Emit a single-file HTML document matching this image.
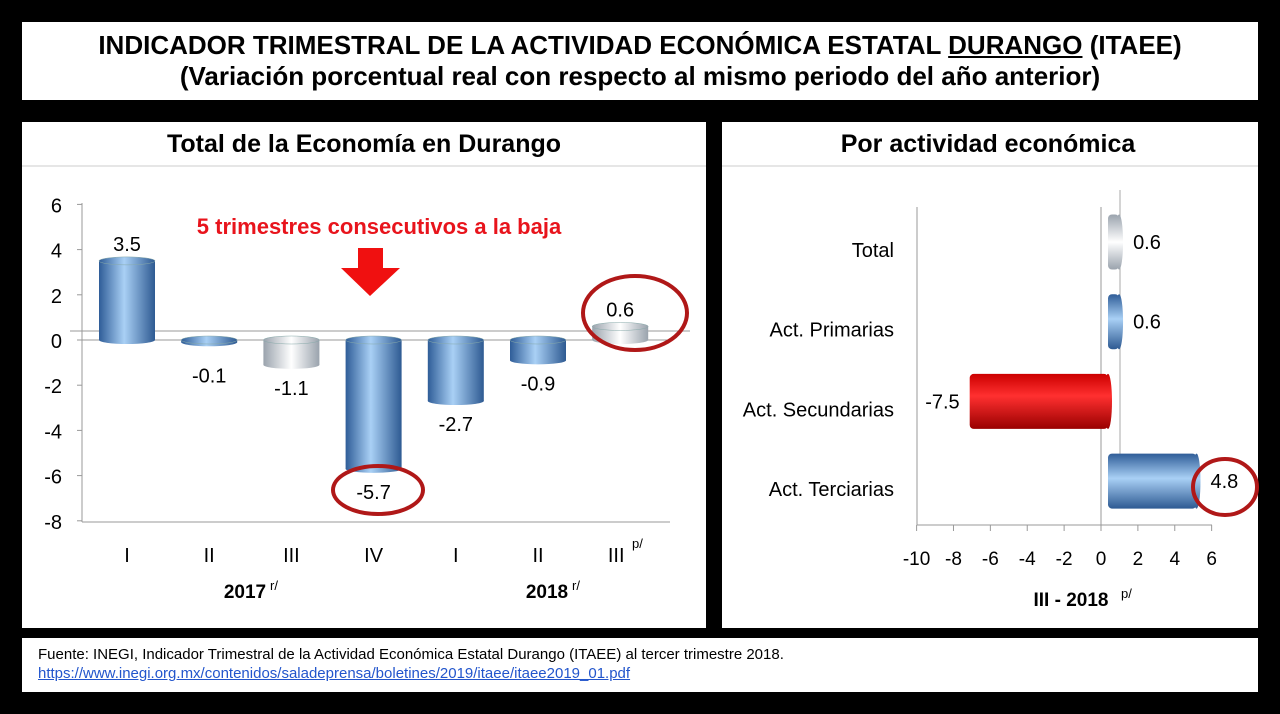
<!DOCTYPE html>
<html><head><meta charset="utf-8">
<style>
body{margin:0;width:1280px;height:714px;background:#000;position:relative;overflow:hidden;font-family:"Liberation Sans",sans-serif}
.box{position:absolute;background:#fff}
</style></head><body>
<div class="box" style="left:22px;top:22px;width:1236px;height:78px;text-align:center;font-weight:bold;font-size:26px;line-height:31px;padding-top:8px;box-sizing:border-box">
<div>INDICADOR TRIMESTRAL DE LA ACTIVIDAD ECONÓMICA ESTATAL <u>DURANGO</u> (ITAEE)</div>
<div>(Variación porcentual real con respecto al mismo periodo del año anterior)</div>
</div>
<div class="box" style="left:22px;top:122px;width:684px;height:506px"></div>
<div class="box" style="left:722px;top:122px;width:536px;height:506px"></div>
<div class="box" style="left:22px;top:638px;width:1236px;height:54px;font-size:15px;line-height:19px;padding:7px 0 0 16px;box-sizing:border-box">
<div>Fuente: INEGI, Indicador Trimestral de la Actividad Económica Estatal Durango (ITAEE) al tercer trimestre 2018.</div>
<div style="color:#2255cc;text-decoration:underline">https://www.inegi.org.mx/contenidos/saladeprensa/boletines/2019/itaee/itaee2019_01.pdf</div>
</div>
<svg id="chart" width="1280" height="714" style="position:absolute;left:0;top:0" xmlns="http://www.w3.org/2000/svg">
<defs>
<linearGradient id="gb" x1="0" x2="1"><stop offset="0" stop-color="#2f5d98"/><stop offset="0.45" stop-color="#a9d0f5"/><stop offset="1" stop-color="#2e5a92"/></linearGradient>
<linearGradient id="gw" x1="0" x2="1"><stop offset="0" stop-color="#9aa3ad"/><stop offset="0.5" stop-color="#ffffff"/><stop offset="1" stop-color="#9aa3ad"/></linearGradient>
<linearGradient id="gbh" x1="0" y1="0" x2="0" y2="1"><stop offset="0" stop-color="#2f5d98"/><stop offset="0.45" stop-color="#a9d0f5"/><stop offset="1" stop-color="#2e5a92"/></linearGradient>
<linearGradient id="gwh" x1="0" y1="0" x2="0" y2="1"><stop offset="0" stop-color="#9aa3ad"/><stop offset="0.5" stop-color="#ffffff"/><stop offset="1" stop-color="#9aa3ad"/></linearGradient>
<linearGradient id="grh" x1="0" y1="0" x2="0" y2="1"><stop offset="0" stop-color="#c00"/><stop offset="0.4" stop-color="#ff3030"/><stop offset="1" stop-color="#900"/></linearGradient>
</defs>
<text x="364" y="152" text-anchor="middle" font-size="25" font-weight="bold">Total de la Economía en Durango</text>
<line x1="22" y1="166" x2="706" y2="166" stroke="#ccc"/>
<text x="988" y="152" text-anchor="middle" font-size="25" font-weight="bold">Por actividad económica</text>
<line x1="722" y1="166" x2="1258" y2="166" stroke="#ccc"/>
<g id="left"></g><g id="right"></g>
</svg>
<script>
const quarters=["I","II","III","IV","I","II","III"];
const totalVals=[3.5,-0.1,-1.1,-5.7,-2.7,-0.9,0.6];
const leftTicks=[6,4,2,0,-2,-4,-6,-8];
const sectors=["Total","Act. Primarias","Act. Secundarias","Act. Terciarias"];
const sectorVals=[0.6,0.6,-7.5,4.8];
const rightTicks=[-10,-8,-6,-4,-2,0,2,4,6];
const NS="http://www.w3.org/2000/svg";
function mk(p,tag,a,txt){const e=document.createElementNS(NS,tag);for(const k in a)e.setAttribute(k,a[k]);if(txt!=null)e.textContent=txt;p.appendChild(e);return e;}
const L=document.getElementById('left');
const ly=v=>340-v*22.6, lx=i=>127+i*82.2;
mk(L,'line',{x1:82,y1:203,x2:82,y2:522,stroke:'#999'});
mk(L,'line',{x1:82,y1:522,x2:670,y2:522,stroke:'#999'});
mk(L,'line',{x1:70,y1:331,x2:690,y2:331,stroke:'#999'});
mk(L,'line',{x1:82,y1:340,x2:670,y2:340,stroke:'#999'});
leftTicks.forEach(t=>{
 const e=mk(L,'text',{x:62,y:ly(t)+8,'text-anchor':'end','font-size':20},String(t));
 
 mk(L,'line',{x1:77,y1:ly(t),x2:82,y2:ly(t),stroke:'#999'});
});
totalVals.forEach((v,i)=>{
 const cx=lx(i),w=56,top=Math.min(ly(v),ly(0)),bot=Math.max(ly(v),ly(0));
 const fill=(i==2||i==6)?'url(#gw)':'url(#gb)';
 const g=mk(L,'g',{});
 
 mk(g,'rect',{x:cx-w/2,y:top,width:w,height:bot-top,fill:fill});
 mk(g,'ellipse',{cx:cx,cy:bot,rx:w/2,ry:4,fill:fill});
 mk(g,'ellipse',{cx:cx,cy:top,rx:w/2,ry:4,fill:fill,stroke:'#8aa',"stroke-width":0.5});
 const ty=v>=0?ly(v)-10:ly(v)+(v>-0.5?40:30);
 const t=mk(L,'text',{x:cx,y:ty,'text-anchor':'middle','font-size':20},String(v));
 
 const q=mk(L,'text',{x:cx-(i==6?4:0),y:562,'text-anchor':'middle','font-size':20},quarters[i]);
 
});
mk(L,'text',{x:632,y:548,'font-size':13},'p/');
[[245,'2017'],[547,'2018']].forEach(([x,s])=>{const e=mk(L,'text',{x:x,y:598,'text-anchor':'middle','font-size':19,'font-weight':'bold'},s);mk(L,'text',{x:x+25,y:590,'font-size':13},'r/');});
const an=mk(L,'text',{x:379,y:234,'text-anchor':'middle','font-size':22,'font-weight':'bold',fill:'#e8141c'},'5 trimestres consecutivos a la baja');

mk(L,'polygon',{points:'358,248 383,248 383,268 400,268 370,296 341,268 358,268',fill:'#f01010'});
mk(L,'ellipse',{cx:378,cy:490,rx:45,ry:24,fill:'none',stroke:'#b01818','stroke-width':4});
mk(L,'ellipse',{cx:635,cy:313,rx:52,ry:37,fill:'none',stroke:'#b01818','stroke-width':4});
const R=document.getElementById('right');
const rx=v=>1101+v*18.44, ry=i=>249+i*79.7;
mk(R,'line',{x1:917,y1:207,x2:917,y2:525,stroke:'#999'});
mk(R,'line',{x1:917,y1:525,x2:1212,y2:525,stroke:'#999'});
mk(R,'line',{x1:1101,y1:207,x2:1101,y2:525,stroke:'#999'});
mk(R,'line',{x1:1120,y1:190,x2:1120,y2:508,stroke:'#aaa'});
rightTicks.forEach(t=>{
 mk(R,'line',{x1:rx(t),y1:525,x2:rx(t),y2:531,stroke:'#999'});
 const e=mk(R,'text',{x:rx(t),y:565,'text-anchor':'middle','font-size':19},String(t));
 
});
sectorVals.forEach((v,i)=>{
 const cy=ry(i),h=55,x0=rx(0)+7,x1=rx(v)+7,a=Math.min(x0,x1),b=Math.max(x0,x1);
 const fill=i==0?'url(#gwh)':i==2?'url(#grh)':'url(#gbh)';
 const g=mk(R,'g',{});
 
 mk(g,'rect',{x:a,y:cy-h/2-7,width:b-a,height:h,rx:4,fill:fill});
 mk(g,'ellipse',{cx:b,cy:cy-7,rx:4,ry:h/2,fill:fill});
 const t=mk(R,'text',{x:v>=0?b+14:a-10,y:cy,'text-anchor':v>=0?'start':'end','font-size':20},String(v));
 
 const c=mk(R,'text',{x:894,y:cy+8,'text-anchor':'end','font-size':20},sectors[i]);
 
});
mk(R,'ellipse',{cx:1225,cy:487,rx:32,ry:28,fill:'none',stroke:'#b01818','stroke-width':4});
const xt=mk(R,'text',{x:1071,y:606,'text-anchor':'middle','font-size':19,'font-weight':'bold'},'III - 2018');

mk(R,'text',{x:1121,y:598,'font-size':13},'p/');
</script>
</body></html>
